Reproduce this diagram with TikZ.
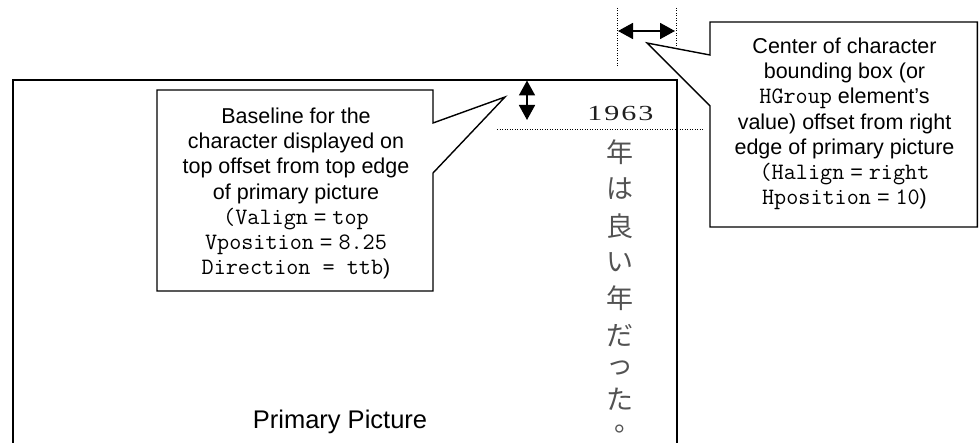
\documentclass[tikz,border=0pt]{standalone}
\usepackage{fontspec}
\setmainfont{Liberation Sans}
\setsansfont{Liberation Sans}
\newfontfamily\timesfont[FakeStretch=1.4]{Liberation Serif}
\newfontfamily\cjkfont{Noto Sans CJK JP}
\usetikzlibrary{arrows.meta}
\newcommand{\mn}[1]{{\ttfamily\fontsize{23.5}{25.3}\selectfont #1}}
\tikzset{
  frame/.style={draw=black, line width=1.7pt},
  callout/.style={draw=black, fill=white, line width=1.4pt, line join=miter},
  dots/.style={draw=black, line width=1pt, dash pattern=on 0.9pt off 1.6pt},
  dimarrow/.style={line width=1.8pt, {Triangle[length=15pt,width=16pt]}-{Triangle[length=15pt,width=16pt]}},
  calltext/.style={align=center, inner sep=0pt, anchor=base, font=\fontsize{21.5}{25.3}\selectfont},
  jchar/.style={inner sep=0pt, text=black!68, font=\cjkfont\fontsize{27}{27}\selectfont},
  digit/.style={inner sep=0pt, anchor=base, text=black!88, font=\timesfont\fontsize{21.5}{21.5}\selectfont}
}
\begin{document}
\begin{tikzpicture}[x=1pt,y=-1pt]
\useasboundingbox (0,0) rectangle (979,443);
% primary picture frame (bottom edge outside the view)
\draw[frame] (13,460) -- (13,80) -- (677,80) -- (677,460);
\node[font=\fontsize{25.5}{25.5}\selectfont, anchor=base] (pp) at (340,428) {Primary Picture};

% dotted guide lines
\coordinate (hl1) at (497,130);
\coordinate (hl2) at (704,130);
\draw[dots] (hl1) -- (hl2);
\coordinate (vl1a) at (617,8);
\coordinate (vl1b) at (617,67);
\coordinate (vl2a) at (676,8);
\coordinate (vl2b) at (676,47);
\draw[dots] (vl1a) -- (vl1b);
\draw[dots] (vl2a) -- (vl2b);

% dimension arrows
\coordinate (va) at (527,80.5);
\coordinate (vb) at (527,120);
\draw[dimarrow] (va) -- (vb);
\coordinate (ha) at (618,31);
\coordinate (hb) at (675,31);
\draw[dimarrow] (ha) -- (hb);

% 1963
\node[digit] (d1) at (595,121) {1};
\node[digit] (d2) at (612,121) {9};
\node[digit] (d3) at (629,121) {6};
\node[digit] (d4) at (646,121) {3};

% vertical Japanese text
\node[jchar] (j1) at (620,152) {年};
\node[jchar] (j2) at (620,189) {は};
\node[jchar] (j3) at (620,226) {良};
\node[jchar] (j4) at (620,262) {い};
\node[jchar] (j5) at (620,298) {年};
\node[jchar] (j6) at (620,336) {だ};
\node[jchar] (j7) at (620,368) {っ};
\node[jchar] (j8) at (620,399) {た};
\node[jchar] (j9) at (628,429) {。};

% left callout
\coordinate (ltip) at (505,97);
\draw[callout] (157,90) -- (433,90) -- (433,123) -- (ltip) -- (433,173) -- (433,291) -- (157,291) -- cycle;
\node[calltext] (lt) at (296,275) {Baseline for the\\character displayed on\\top offset from top edge\\of primary picture\\
\mn{(Valign} = \mn{top}\\ \mn{Vposition} = \mn{8.25}\\ \mn{Direction = ttb})};

% right callout
\coordinate (rtip) at (647,43);
\draw[callout] (710,22) -- (977.3,22) -- (977.3,227) -- (710,227) -- (710,106) -- (rtip) -- (710,55) -- cycle;
\node[calltext] (rt) at (844.5,205) {Center of character\\bounding box (or\\\mn{HGroup} element’s\\value) offset from right\\edge of primary picture\\
\mn{(Halign} = \mn{right}\\ \mn{Hposition} = \mn{10})};
\end{tikzpicture}
\end{document}
